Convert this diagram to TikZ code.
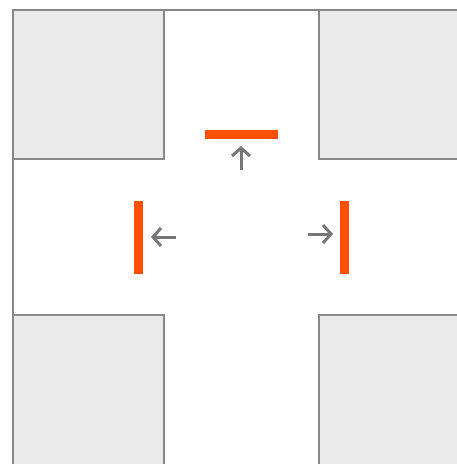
\documentclass[tikz,border=0pt]{standalone}
\usetikzlibrary{arrows.meta}
\definecolor{blockfill}{HTML}{EAEAEA}
\definecolor{edgegray}{HTML}{888888}
\definecolor{barorange}{HTML}{FF5000}
\definecolor{arrowgray}{HTML}{777777}
\begin{document}
\begin{tikzpicture}[x=1pt,y=-1pt,
  block/.style={fill=blockfill,draw=edgegray,line width=1.3pt},
  border/.style={draw=edgegray,line width=1.3pt},
  bar/.style={fill=barorange,draw=none},
  movearrow/.style={draw=arrowgray,line width=3pt,-{Straight Barb[length=8pt,width=18pt]}}]
\useasboundingbox (0,0) rectangle (457,464);
\clip (0,0) rectangle (457,464);
% border lines
\draw[border] (470,10) -- (13,10) -- (13,470);
% blocks
\draw[block] (13,10) rectangle (164,159);
\draw[block] (319,10) rectangle (470,159);
\draw[block] (13,315) rectangle (164,470);
\draw[block] (319,315) rectangle (470,470);
% bars
\fill[bar] (205,130) rectangle (278,139);
\fill[bar] (134,201) rectangle (143,274);
\fill[bar] (340,201) rectangle (349,274);
% arrows
\coordinate (uA) at (241,170);
\coordinate (uB) at (241,146);
\coordinate (lA) at (176,237);
\coordinate (lB) at (151,237);
\coordinate (rA) at (308,234);
\coordinate (rB) at (333,234);
\draw[movearrow] (uA) -- (uB);
\draw[movearrow] (lA) -- (lB);
\draw[movearrow] (rA) -- (rB);
\end{tikzpicture}
\end{document}
